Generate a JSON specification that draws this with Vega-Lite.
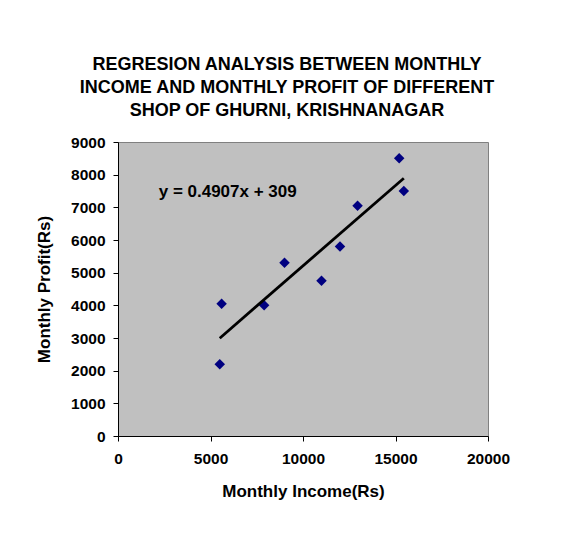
{
  "$schema": "https://vega.github.io/schema/vega-lite/v6.json",
  "autosize": "none",
  "width": 370,
  "height": 294,
  "padding": {"left": 118, "top": 142, "right": 84, "bottom": 110},
  "background": "white",
  "title": {
    "text": ["REGRESION ANALYSIS BETWEEN MONTHLY", "INCOME AND MONTHLY PROFIT OF DIFFERENT", "SHOP OF GHURNI, KRISHNANAGAR"],
    "font": "Liberation Sans",
    "fontSize": 18,
    "fontWeight": "bold",
    "lineHeight": 23,
    "color": "black",
    "anchor": "middle",
    "dx": -16,
    "offset": 15
  },
  "config": {
    "view": {"fill": "#C0C0C0", "stroke": "#808080", "strokeWidth": 1},
    "axis": {
      "grid": false,
      "domainColor": "black",
      "tickColor": "black",
      "tickSize": 5,
      "labelFont": "Liberation Sans",
      "labelFontSize": 15.5,
      "labelFontWeight": "bold",
      "labelColor": "black",
      "titleFont": "Liberation Sans",
      "titleFontSize": 17,
      "titleFontWeight": "bold",
      "titleColor": "black",
      "labelFlush": false
    },
    "axisX": {"labelPadding": 10, "titlePadding": 17},
    "axisY": {"labelPadding": 8, "titlePadding": 17}
  },
  "datasets": {
    "shops": [
      {"income": 5600, "profit": 4050},
      {"income": 5500, "profit": 2200},
      {"income": 7900, "profit": 4000},
      {"income": 9000, "profit": 5300},
      {"income": 11000, "profit": 4750},
      {"income": 12000, "profit": 5800},
      {"income": 12950, "profit": 7050},
      {"income": 15200, "profit": 8500},
      {"income": 15450, "profit": 7500}
    ],
    "equation": [
      {"label": "y = 0.4907x + 309", "income": 2200, "profit": 7460}
    ]
  },
  "layer": [
    {
      "data": {"name": "shops"},
      "mark": {"type": "point", "shape": "diamond", "filled": true, "size": 110, "color": "#000080", "opacity": 1},
      "encoding": {
        "x": {
          "field": "income", "type": "quantitative",
          "scale": {"domain": [0, 20000], "nice": false},
          "axis": {"title": "Monthly Income(Rs)", "values": [0, 5000, 10000, 15000, 20000], "format": "d"}
        },
        "y": {
          "field": "profit", "type": "quantitative",
          "scale": {"domain": [0, 9000], "nice": false},
          "axis": {"title": "Monthly Profit(Rs)", "values": [0, 1000, 2000, 3000, 4000, 5000, 6000, 7000, 8000, 9000], "format": "d"}
        }
      }
    },
    {
      "data": {"name": "shops"},
      "transform": [{"regression": "profit", "on": "income", "method": "linear"}],
      "mark": {"type": "line", "color": "black", "strokeWidth": 2.8},
      "encoding": {
        "x": {
          "field": "income", "type": "quantitative",
          "scale": {"domain": [0, 20000], "nice": false},
          "axis": {"title": "Monthly Income(Rs)", "values": [0, 5000, 10000, 15000, 20000], "format": "d"}
        },
        "y": {
          "field": "profit", "type": "quantitative",
          "scale": {"domain": [0, 9000], "nice": false},
          "axis": {"title": "Monthly Profit(Rs)", "values": [0, 1000, 2000, 3000, 4000, 5000, 6000, 7000, 8000, 9000], "format": "d"}
        }
      }
    },
    {
      "data": {"name": "equation"},
      "mark": {"type": "text", "font": "Liberation Sans", "fontSize": 17, "fontWeight": "bold", "align": "left", "baseline": "middle", "color": "black"},
      "encoding": {
        "x": {
          "field": "income", "type": "quantitative",
          "scale": {"domain": [0, 20000], "nice": false},
          "axis": {"title": "Monthly Income(Rs)", "values": [0, 5000, 10000, 15000, 20000], "format": "d"}
        },
        "y": {
          "field": "profit", "type": "quantitative",
          "scale": {"domain": [0, 9000], "nice": false},
          "axis": {"title": "Monthly Profit(Rs)", "values": [0, 1000, 2000, 3000, 4000, 5000, 6000, 7000, 8000, 9000], "format": "d"}
        },
        "text": {"field": "label"}
      }
    }
  ]
}
